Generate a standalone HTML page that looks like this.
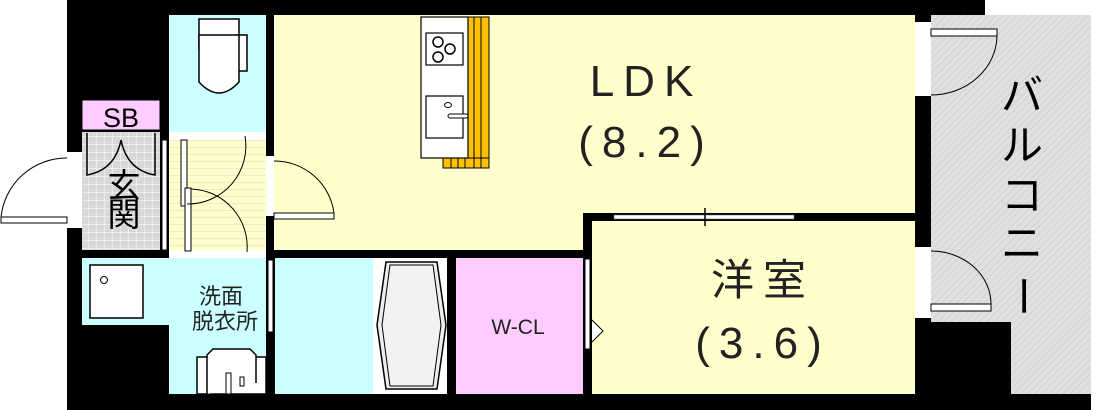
<!DOCTYPE html>
<html><head><meta charset="utf-8"><style>
html,body{margin:0;padding:0;background:#fff;}
svg{display:block;}
text{font-family:"Liberation Sans","Noto Sans CJK JP",sans-serif;}
</style></head><body>
<svg width="1105" height="410" viewBox="0 0 1105 410" xmlns="http://www.w3.org/2000/svg">
<defs>
<pattern id="tile" width="8" height="8" patternUnits="userSpaceOnUse">
<rect width="8" height="8" fill="#d8d8d8"/><path d="M0 0H8M0 0V8" stroke="#fff" stroke-width="1"/>
</pattern>
<pattern id="hatch" width="5" height="5" patternUnits="userSpaceOnUse" patternTransform="rotate(-45)">
<rect width="5" height="5" fill="#e0e0e0"/><path d="M0 0H5" stroke="#c4c4c4" stroke-width="1"/>
</pattern>
<pattern id="stripe" width="10" height="7" patternUnits="userSpaceOnUse">
<rect width="10" height="7" fill="#ffffcc"/><path d="M0 0H10" stroke="#d8d8c0" stroke-width="1"/>
</pattern>
</defs>
<rect x="67" y="0" width="1024" height="410" fill="#000"/>
<rect x="985" y="0" width="120" height="15" fill="#fff"/>
<rect x="1091" y="15" width="14" height="380" fill="#fff"/>
<rect x="931" y="15" width="160" height="379" fill="url(#hatch)"/>
<rect x="931" y="322" width="80" height="72" fill="#000"/>
<rect x="274" y="15" width="641" height="235" fill="#ffffcc"/>
<rect x="583" y="213" width="332" height="37" fill="#000"/>
<rect x="592" y="221" width="323" height="173" fill="#ffffcc"/>
<rect x="614" y="215" width="180" height="4" fill="#fff" stroke="#666" stroke-width="0.6"/>
<line x1="705" y1="208" x2="705" y2="226" stroke="#000" stroke-width="1.5"/>
<rect x="169" y="15" width="97" height="117" fill="#ccffff"/>
<rect x="199" y="19" width="40" height="30" fill="#fff" stroke="#000" stroke-width="1.5"/>
<rect x="237" y="35" width="10" height="36" fill="#fff" stroke="#000" stroke-width="1.5"/>
<path d="M199 35 V82 Q219 104 239 82 V35 Z" fill="#fff" stroke="#000" stroke-width="1.5"/>
<rect x="169" y="132" width="97" height="8" fill="#fff"/>
<rect x="169" y="140" width="97" height="110" fill="url(#stripe)"/>
<rect x="169" y="250" width="97" height="8" fill="#fff"/>
<rect x="181" y="140" width="6" height="66" fill="#fff" stroke="#000"/>
<rect x="185" y="188" width="6" height="63" fill="#fff" stroke="#000"/>
<path d="M187 204 A58 58 0 0 0 245 136" fill="none" stroke="#000"/>
<path d="M191 189 A58 58 0 0 1 247 252" fill="none" stroke="#000"/>
<rect x="162" y="140" width="5" height="110" fill="#fff" stroke="#000"/>
<rect x="266" y="156" width="8" height="60" fill="#fff"/>
<path d="M274 161 A60 60 0 0 1 334 213" fill="none" stroke="#000"/>
<rect x="274" y="213" width="60" height="6" fill="#fff" stroke="#000"/>
<rect x="82" y="100" width="78" height="30" fill="#ffccff" stroke="#000" stroke-width="1"/>
<text x="121" y="127" font-size="27" text-anchor="middle" fill="#000">SB</text>
<rect x="82" y="132" width="78" height="118" fill="url(#tile)"/>
<path d="M87 133 V175 Q115 170 121 140 Q127 170 155 175 V133" fill="none" stroke="#000" stroke-width="1.5"/>
<text x="124" y="197" font-size="33" text-anchor="middle">玄</text>
<text x="124" y="226" font-size="33" text-anchor="middle">関</text>
<rect x="67" y="152" width="15" height="76" fill="#fff"/>
<path d="M67 158 A66 66 0 0 0 1 217" fill="none" stroke="#000"/>
<rect x="1" y="217" width="66" height="6" fill="#fff" stroke="#000"/>
<rect x="82" y="258" width="184" height="136" fill="#ccffff"/>
<rect x="82" y="325" width="87" height="69" fill="#000"/>
<rect x="90" y="265" width="53" height="53" fill="#fff" stroke="#000" stroke-width="1.5"/>
<circle cx="104" cy="280" r="3.5" fill="none" stroke="#000"/>
<text x="221" y="304" font-size="22" text-anchor="middle" fill="#222">洗面</text>
<text x="225" y="329" font-size="22" text-anchor="middle" fill="#222">脱衣所</text>
<rect x="197" y="357" width="69" height="37" fill="#fff" stroke="#000" stroke-width="1.5"/>
<path d="M207 394 V355 L213 349 H250 L256 355 V383" fill="#fff" stroke="#000" stroke-width="1.5"/>
<rect x="226" y="373" width="5" height="21" fill="#fff" stroke="#000"/>
<rect x="240" y="377" width="4" height="9" fill="#fff" stroke="#000"/>
<rect x="268" y="260" width="5" height="72" fill="#fff" stroke="#000"/>
<path d="M275 262 L287 270 L275 278" fill="#fff" stroke="#000"/>
<rect x="275" y="258" width="98" height="136" fill="#ccffff"/>
<rect x="373" y="258" width="74" height="136" fill="#fff"/>
<path d="M386 262 H437 L446 325 L437 389 H386 L377 325 Z" fill="#eee" stroke="#000" stroke-width="1.5"/>
<path d="M390 265 H433 L441 325 L433 386 H390 L382 325 Z" fill="#f2f2f2" stroke="#000" stroke-width="1"/>
<rect x="456" y="258" width="127" height="136" fill="#ffccff"/>
<text x="518" y="334" font-size="21" text-anchor="middle" fill="#222">W-CL</text>
<rect x="585" y="259" width="5" height="90" fill="#fff" stroke="#000"/>
<path d="M592 320 L603 331 L592 342" fill="#fff" stroke="#000"/>
<rect x="468" y="17" width="21" height="151" fill="#ffc000" stroke="#000" stroke-width="1"/>
<rect x="443" y="158" width="46" height="10" fill="#ffc000" stroke="#000" stroke-width="1"/>
<path d="M474 17V168M481 17V168M451 158V168M458 158V168M465 158V168" stroke="#000" stroke-width="1"/>
<rect x="421" y="17" width="47" height="141" fill="#fff" stroke="#000" stroke-width="1.2"/>
<rect x="426" y="33" width="37" height="32" fill="#fff" stroke="#000" stroke-width="1.2"/>
<circle cx="438" cy="42" r="5" fill="none" stroke="#000" stroke-width="1.5"/>
<circle cx="450" cy="49" r="5" fill="none" stroke="#000" stroke-width="1.5"/>
<circle cx="438" cy="57" r="5" fill="none" stroke="#000" stroke-width="1.5"/>
<rect x="426" y="96" width="37" height="42" fill="#fff" stroke="#000" stroke-width="1.2"/>
<ellipse cx="448" cy="105" rx="3.5" ry="2.5" fill="none" stroke="#000"/>
<rect x="448" y="114" width="20" height="4" rx="2" fill="#fff" stroke="#000"/>
<text x="646" y="96" font-size="44" text-anchor="middle" fill="#222" letter-spacing="9">LDK</text>
<text x="646" y="157" font-size="44" text-anchor="middle" fill="#222" letter-spacing="9">(8.2)</text>
<text x="763" y="295" font-size="43" text-anchor="middle" fill="#222" letter-spacing="9">洋室</text>
<text x="763" y="358" font-size="44" text-anchor="middle" fill="#222" letter-spacing="9">(3.6)</text>
<rect x="915" y="22" width="16" height="74" fill="#fff"/>
<rect x="931" y="29" width="66" height="7" fill="#fff" stroke="#000"/>
<path d="M997 36 A66 60 0 0 1 931 95" fill="none" stroke="#000"/>
<rect x="915" y="247" width="16" height="71" fill="#fff"/>
<rect x="931" y="304" width="60" height="7" fill="#fff" stroke="#000"/>
<path d="M931 251 A60 53 0 0 1 991 304" fill="none" stroke="#000"/>
<g font-size="42" fill="#000" text-anchor="middle">
<text x="1022" y="110">バ</text>
<text x="1022" y="160">ル</text>
<text x="1022" y="210">コ</text>
<text x="1022" y="258">ニ</text>
<text x="1022" y="310" transform="rotate(90 1022 296)">ー</text>
</g>
</svg>
</body></html>
